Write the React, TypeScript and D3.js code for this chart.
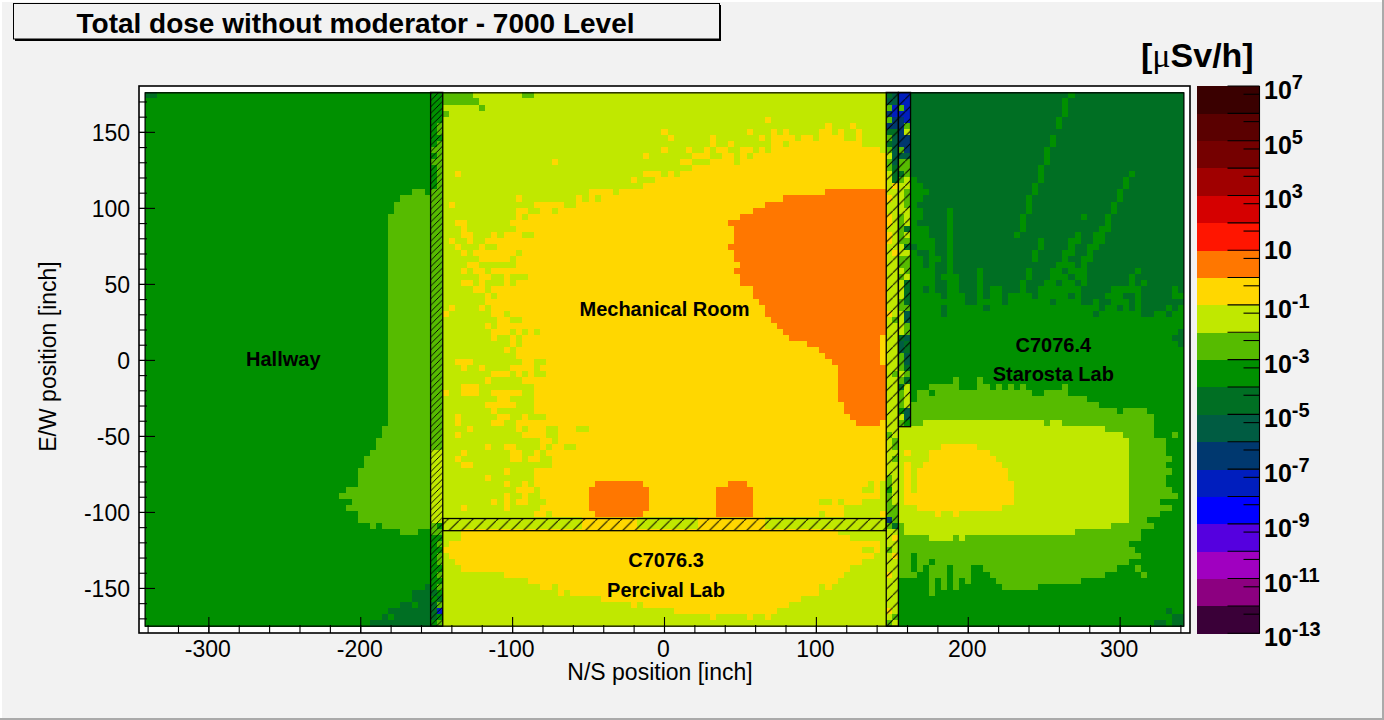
import React from "react";
import * as d3 from "d3";

// ---------- values ----------
const titleText = "Total dose without moderator - 7000 Level";
const xMajorTicks = [-300, -200, -100, 0, 100, 200, 300];
const yMajorTicks = [-150, -100, -50, 0, 50, 100, 150];
const barLabelExponents = [7, 5, 3, 1, -1, -3, -5, -7, -9, -11, -13];
// one colour per decade, 1e-13 upward
const paletteColors = ["#3a0038", "#8c0080", "#a000c0", "#5500df", "#0000ff", "#001ebe", "#00386f", "#005c42", "#006f23", "#009000", "#56bb00", "#c0e800", "#ffd700", "#ff7700", "#ff1500", "#d50000", "#a00000", "#750000", "#5a0000", "#3a0000"];
// code letter -> decade exponent of the dose
const doseExponents: Record<string, number> = { B: -8, N: -7, T: -6, D: -5, G: -4, L: -3, Y: -2, O: -1, R: 0 };

// Each band: [number of rows, runs "startColumn+code"]
const hallwayBands: [number, string][] = [
  [1, "0D 2G"], [15, "0G"], [1, "0G 44L 46G"], [1, "0G 42L"], [2, "0G 41L"], [35, "0G 40L"],
  [2, "0G 39L"], [2, "0G 38L"], [1, "0G 37L"], [2, "0G 36L"], [3, "0G 35L"], [1, "0G 33L"], [1, "0G 32L"],
  [1, "0G 34L"], [1, "0G 33L"], [2, "0G 35L"], [1, "0G 37L 38G 39L"], [1, "0G 42L 45G"], [8, "0G"],
  [1, "0G 46D"], [2, "0G 44D"], [1, "0G 42D 44G 45D"], [1, "0G 40D"], [1, "0G 39D 40G 41D"], [1, "0G 37D"],
];
const westWallCells = [
  "GG", "GG", "GG", "GG", "GG", "GL", "GL", "GG", "GL", "LL", "GL", "LL", "GL", "GL", "GL", "GL",
  "LL", "LL", "LL", "LL", "LL", "LL", "LL", "LL", "LL", "LL", "LL", "LL", "LL", "LL", "LL", "LL", "LL", "LL", "LL", "LL", "LL", "LL", "LL", "LL", "LL", "LL", "LL", "LL", "LL", "LL", "LL", "LL", "LL", "LL", "LL", "LL", "LL", "LL", "LL", "LL", "LL", "LL", "LL",
  "YY", "YY", "YY", "YY", "YY", "YY", "YY", "YY", "YY", "YY", "YY", "YY",
  "LG", "LL", "GG", "GL", "GG", "GL", "GL", "GG", "GL", "GG", "GL", "DG", "GD", "DL", "DB", "DG", "GL",
].slice(0, 88);
const roomRows = [
  "49L 54Y 62L 64Y", "49L 55Y", "49Y 55L 56Y", "49L 50Y", "49Y 102O 103Y", "49Y 112O 113Y 116O 117Y",
  "49Y 85O 86Y 99O 100Y 103O 104Y 105O 106Y 111O 113Y 114O 115Y 117O 118Y",
  "49Y 86O 87Y 93O 94Y 101O 102Y 103O 107Y 108O 110Y 111O 115Y 117O 118Y",
  "49Y 93O 94Y 96O 97Y 103O 105Y 106O 118Y",
  "49Y 85O 86Y 89O 90Y 92O 93Y 94O 96Y 98O 100Y 101O 102Y 103O 121Y",
  "49Y 82O 83Y 90O 93Y 95O 97Y 98O 99Y 100O",
  "49Y 67O 68Y 88O 90Y 93O 97Y 98O",
  "49Y 90O", "49Y 51O 52Y 82O 85Y 86O 87Y 88O", "49Y 80O 81Y 84O", "49Y 82O",
  "49Y 73O 77Y 78O 112R", "49Y 61O 62Y 71O 72Y 73O 74Y 75O 105R", "49Y 50O 51Y 64O 69Y 71O 102R",
  "49Y 61O 63Y 65O 67Y 68O 100R", "49Y 61O 62Y 63O 98R", "49Y 51O 53Y 60O 96R", "49Y 52O 53Y 61O 97R",
  "49Y 52O 54Y 57O 58Y 59O 62Y 64O 97R", "49Y 50O 51Y 53O 54Y 56O 97R", "49Y 51O 52Y 55O 56Y 58O 96R",
  "49Y 52O 53Y 54O 61Y 62O 97R", "49Y 55O 60Y 61O 97R", "49Y 53O 55Y 61O 98R", "49Y 52O 53Y 54O 56Y 57O 97R",
  "49Y 55O 57Y 59O 60Y 63O 98R", "49Y 52O 54Y 55O 56Y 59O 60Y 61O 98R", "49Y 54O 56Y 57O 100R",
  "49Y 56O 57Y 58O 100R", "49Y 56O 101R", "49Y 50O 51Y 55O 56Y 57O 102R", "49O 50Y 57O 59Y 60O 102R",
  "49Y 58O 60Y 62O 103R", "49Y 56O 57Y 58O 104R", "49Y 57O 60Y 61O 62Y 63O 64Y 65O 105R",
  "49Y 57O 58Y 60O 61Y 62O 106R 121O", "49Y 60O 61Y 62O 109R 121O", "49Y 59O 60Y 61O 111R 121O",
  "49Y 61O 112R 121O", "49Y 51O 54Y 62O 64Y 66O 113R 121O", "49Y 52O 53Y 55O 56Y 60O 64Y 65O 114R",
  "49Y 57O 60Y 61O 62Y 63O 64Y 66O 114R", "49Y 56O 57Y 62O 114R", "49Y 52O 55Y 64O 114R",
  "49O 50Y 52O 55Y 57O 62Y 64O 114R", "49Y 58O 60Y 64O 114R", "49Y 56O 61Y 64O 115R", "49Y 57O 58Y 64O 115R",
  "49Y 51O 52Y 58O 60Y 62O 63Y 66O 116R", "49Y 51O 52Y 57O 59Y 61O 117R 121O",
  "49Y 53O 54Y 61O 62Y 63O 66Y 68O 71Y 73O", "49Y 51O 52Y 62O 66Y 68O", "49Y 65O 67Y 68O",
  "49Y 56O 57Y 59O 61Y 65O 66Y 67O 69Y 71O", "49Y 52O 53Y 60O 62Y 64O 65Y 66O", "49Y 51O 52Y 60O 62Y 63O 65Y 67O",
  "49Y 52O 54Y 67O", "49Y 59O 60Y 64O", "49Y 56O 57Y 64O",
  "49Y 59O 60Y 62O 63Y 64O 74R 82O 96R 99O 119Y 120O 121Y",
  "49Y 61O 64Y 65O 73R 83O 94R 100O 118Y 120O 121Y",
  "49Y 59O 60Y 62O 63Y 65O 73R 83O 94R 100O 121Y",
  "49Y 57O 58Y 59O 60Y 61O 63Y 66O 73R 83O 94R 100O 111Y 113O 114Y 115O 118Y",
  "49Y 52O 53Y 59O 60Y 65O 73R 83O 94R 100O 115Y",
  "49Y 64O 66Y 67O 74R 82O 94R 100O 111Y 112O 115Y 121O",
  "49Y 72O 81Y 91O 102Y", "49Y 72O 81Y 91O 102Y",
  "49Y 52O 114Y", "49Y 52O 116Y", "49Y 50O 121Y", "49O 118Y 120O 121Y", "49Y 50O 120Y", "49Y 51O 118Y",
  "49Y 52O 116Y", "49Y 59O 115Y", "49Y 63O 114Y", "49Y 65O 67Y 68O 111Y 112O 113Y",
  "49Y 68O 69Y 70O 111Y", "49Y 75O 108Y", "49Y 80O 81Y 82O 106Y", "49Y 87O 104Y",
  "49Y 93O 94Y 99O 100Y 102O 103Y", "49Y",
];
const eastWallCells = [
  "DTBB", "TTBB", "LBLB", "NBBB", "LNNB", "NNNL", "DDNY", "LTNN", "DTNN", "LTLN", "YTTT", "LTLL", "LDLL", "YDDL", "YDLY",
  "YOYY", "YYYL", "OYYL", "YYYL", "YYYY", "OYLY", "OYLY", "YYLD", "OYLY", "OYLL", "YYYD", "YOYY", "YYLL", "YYLL", "YYYL",
  "YYLY", "YYYD", "YYYD", "YYYD", "YYLD", "YYLL", "OYYT", "YLYT", "YYYL", "YYYL", "YYDT", "YYTD", "YYTD", "YYLT", "YYLT",
  "YYLD", "YLYL", "YYLD", "YYDY", "YYLY", "YYLY", "YYLY", "YYGT", "YYYT", "YYLG",
  "YY", "LY", "YL", "YL", "YY", "YL", "YY", "YY", "LY", "LY", "GY", "LY", "LY", "LL", "LL", "NL", "LD",
  "YY", "YO", "YY", "LY", "YO", "YY", "YY", "OY", "YY", "YY", "YY", "YY", "YY", "OY", "YL", "LY",
];
const labRows = [
  "126D 152G 153D", "126D 151G 152D", "126D 151G 152D", "126D 151G 152D", "126D 150G 151D", "126D 150G 151D", "126D",
  "126D 149G 150D", "126D 149G 150D", "126D 148G 149D", "126D 148G 149D", "126D 148G 149D", "126D 147G 148D",
  "126D 147G 148D 162G 163D", "126G 127D 147G 148D 161G 162D", "126G 128D 146G 147D 161G 162D",
  "126G 129D 146G 147D 160G 161D", "126G 128D 145G 146D 160G 161D", "126G 127D 145G 146D 159G 160D",
  "126G 128D 132G 133D 145G 146D 159G 160D", "126G 128D 132G 133D 144G 145D 154G 155D 158G 159D",
  "126G 127D 132G 133D 144G 145D 158G 159D", "126G 129D 132G 133D 144G 145D 157G 159D",
  "126G 129D 132G 133D 143G 144D 153G 154D 156G 158D", "126G 130D 132G 133D 147G 148D 152G 154D 156G 158D",
  "126D 127G 130D 132G 133D 147G 148D 152G 153D 155G 157D", "126G 127D 129G 130D 132G 133D 146G 147D 151G 153D 155G 156D",
  "126G 128D 129G 131D 132G 133D 146G 147D 151G 152D 154G 156D", "126G 128D 129G 130D 132G 133D 150G 153D 154G 155D",
  "126G 130D 132G 133D 137G 138D 145G 146D 149G 151D 152G 155D 163G 164D",
  "126G 130D 131G 134D 137G 138D 145G 146D 149G 152D 153G 155D 162G 163D",
  "126G 130D 132G 134D 137G 138D 144G 145D 148G 150D 151G 153D 154G 155D 162G 163D 164G 165D",
  "126G 128D 129G 130D 132G 134D 137G 138D 139G 141D 144G 145D 147G 154D 159G 164D 169G 170D",
  "126G 131D 132G 135D 137G 138D 139G 141D 142G 146D 147G 152D 153G 154D 158G 161D 163G 164D 169G",
  "126G 135D 137G 141D 142G 149D 150G 154D 156G 157D 159G 162D 163G 164D",
  "126G 131D 132G 138D 139G 157D 158G 160D 161G 162D 163G 164D 168G 169D 170G",
  "126G 131D 132G 156D 157G 164D 166G 168D 169G",
  "126G", "126G", "126G 170D", "126G 169D", "126G 170D", "126G", "126G", "126G", "126G", "126G",
  "126G 133L 134G 137L 138G", "126G 129L 134G 137L 139G 140L 141G 142L 143G 144L 145G 151L 152G",
  "126G 127L 129G 130L 146G 148L 152G", "126G 127L 155G", "126L 157G", "126L 160G 161L 165G", "126L 166G",
  "126L 128Y 148L 149Y 151L 166G", "124Y 158L 166G", "124Y 161L 166G 169L 170G", "124Y 162L 168G",
  "124Y 131O 137Y 162L 168G", "124Y 125O 126Y 129O 139Y 162L 168G", "124Y 129O 140Y 162L 169G",
  "124Y 125O 126Y 128O 141Y 162L 168G", "124Y 125O 126Y 127O 142Y 162L 169G", "124Y 125O 126Y 127O 142Y 162L 168G",
  "124Y 125O 126Y 127O 143Y 162L 168G", "124Y 125O 126Y 127O 143Y 162L 169G", "124Y 125O 143Y 162L 170G",
  "124Y 125O 143Y 162L 167G", "124Y 127O 141Y 162L 169G", "124Y 130O 131Y 133O 134Y 162L 167G", "124Y 162L 165G",
  "124L 125Y 159L 166G", "124L 125Y 153L 164G", "124L 129Y 133L 134Y 135L 164G", "124L 162G", "124L 163G",
  "124L 126G 127L 164G", "124L 126G 127L 129G 130L 162G", "124L 126G 127L 128G 129L 132G 133L 136G 138L 160G 163L 164G",
  "124L 127G 129L 132G 133L 136G 139L 158G 164L 165G", "124G 129L 130G 131L 132G 133L 134G 135L 136G 140L 154G",
  "124G 129L 130G 131L 132G 133L 134G 141L 147G", "124G 129L 130G", "124G", "124G", "124G 168D 169G", "124G 169D",
  "124G 166D 168G 169D",
];
// hatched walls, in inches: [x0, x1, y0, y1, spacing key]
const hatchedWalls: [number, number, number, number, string][] = [
  [-154, -146, 176.3, -174.8, "hatchFine"],
  [146, 154, 176.3, -174.8, "hatchWide"],
  [154, 162, 176.3, -43.6, "hatchWide"],
  [-146, 146, -104, -112, "hatchWide"],
];
const roomLabels: [string, number, number][] = [
  ["Hallway", -251, 366], ["Mechanical Room", 0, 316], ["C7076.3", 1, 567], ["Percival Lab", 1, 597],
  ["C7076.4", 256, 352], ["Starosta Lab", 256, 381],
];

// ---------- layout ----------
const W = 1384, H = 720;
const frame = { left: 139, right: 1190, top: 86, bottom: 633 };
const bar = { left: 1197, right: 1259.5 };
const FONT = "'Liberation Sans', Arial, sans-serif";
const xScale = d3.scaleLinear().domain([-346, 346]).range([frame.left, frame.right]);
const yScale = d3.scaleLinear().domain([-179.5, 180.5]).range([frame.bottom + 0.3, frame.top]);
const colEdge = d3.scaleLinear().domain([0, 171]).range([-342, 342]);
const rowEdge = d3.scaleLinear().domain([0, 88]).range([176.3, -174.8]);
const barScale = d3.scaleLog().domain([1e-13, 1e7]).range([frame.bottom + 0.3, frame.top]);
const colorOf = d3.scaleQuantize<string>().domain([-13, 7]).range(paletteColors);

function expandBands(bands: [number, string][]) {
  return bands.flatMap(([n, s]) => Array(n).fill(s) as string[]);
}
function parseRuns(s: string) {
  return s.split(" ").map((t) => ({ col: parseInt(t, 10), code: t[t.length - 1] }));
}
type Run = { row: number; c0: number; c1: number; code: string };
function buildRuns(): Run[] {
  const out: Run[] = [];
  const hall = expandBands(hallwayBands);
  for (let r = 0; r < 88; r++) {
    const push = (s: string, end: number) => {
      const runs = parseRuns(s);
      runs.forEach((u, i) => out.push({ row: r, c0: u.col, c1: i + 1 < runs.length ? runs[i + 1].col : end, code: u.code }));
    };
    push(hall[r], 47);
    [...westWallCells[r]].forEach((code, i) => out.push({ row: r, c0: 47 + i, c1: 48 + i, code }));
    push(roomRows[r], 122);
    [...eastWallCells[r]].forEach((code, i) => out.push({ row: r, c0: 122 + i, c1: 123 + i, code }));
    push(labRows[r], 171);
  }
  return out;
}
const cellRuns = buildRuns();
const xMinor = d3.range(-340, 341, 20);
const yMinor = d3.range(-170, 171, 10);
const barDecades = d3.range(-13, 8);
const barMinor = d3.range(-13, 7).map((e) => 5 * Math.pow(10, e));

export default function App() {
  return (
    <svg width={W} height={H} viewBox={`0 0 ${W} ${H}`} style={{ position: "absolute", left: 0, top: 0, display: "block" }} fontFamily={FONT}>
      <defs>
        <pattern id="hatchFine" width={6.4} height={6.4} patternUnits="userSpaceOnUse">
          <line x1={-1} y1={7.4} x2={7.4} y2={-1} stroke="#000" strokeWidth={0.9} />
        </pattern>
        <pattern id="hatchWide" width={12.4} height={12.4} patternUnits="userSpaceOnUse">
          <line x1={-1} y1={13.4} x2={13.4} y2={-1} stroke="#000" strokeWidth={1} />
        </pattern>
      </defs>
      <rect width={W} height={H} fill="#f2f2f2" />
      <rect x={0} y={0} width={2} height={H} fill="#fff" />
      <rect x={0} y={0} width={W} height={2} fill="#fff" />
      <rect x={W - 2} y={0} width={2} height={H} fill="#aaa" />
      <rect x={0} y={H - 2} width={W} height={2} fill="#aaa" />

      {/* title */}
      <rect x={15} y={5} width={706} height={36} fill="#000" />
      <rect x={13.5} y={3.5} width={706} height={35.5} fill="#f2f2f2" stroke="#000" strokeWidth={1} />
      <text x={76.5} y={32.5} fontSize={28} fontWeight={700} fill="#000">{titleText}</text>

      {/* frame */}
      <rect x={frame.left} y={frame.top} width={frame.right - frame.left} height={frame.bottom - frame.top} fill="#fff" stroke="#000" strokeWidth={1.6} />

      {/* heat map */}
      <g shapeRendering="crispEdges">
        {cellRuns.map((u, i) => (
          <rect key={i} x={xScale(colEdge(u.c0))} y={yScale(rowEdge(u.row))}
            width={xScale(colEdge(u.c1)) - xScale(colEdge(u.c0)) + 0.4}
            height={yScale(rowEdge(u.row + 1)) - yScale(rowEdge(u.row)) + 0.4}
            fill={colorOf(doseExponents[u.code] + 0.5)} />
        ))}
      </g>

      {/* walls */}
      <rect x={xScale(-342)} y={yScale(176)} width={xScale(342) - xScale(-342)} height={yScale(-174.8) - yScale(176)} fill="none" stroke="#000" strokeWidth={1.2} />
      {hatchedWalls.map(([x0, x1, y0, y1, id], i) => (
        <g key={i}>
          <rect x={xScale(x0)} y={yScale(y0)} width={xScale(x1) - xScale(x0)} height={yScale(y1) - yScale(y0)} fill={`url(#${id})`} />
          <rect x={xScale(x0)} y={yScale(y0)} width={xScale(x1) - xScale(x0)} height={yScale(y1) - yScale(y0)} fill="none" stroke="#000" strokeWidth={1.3} />
        </g>
      ))}

      {/* room labels */}
      {roomLabels.map(([t, x, y]) => (
        <text key={t} x={xScale(x)} y={y} textAnchor="middle" fontSize={20} fontWeight={700} fill="#000">{t}</text>
      ))}

      {/* axes */}
      <g stroke="#000" strokeWidth={1.1}>
        {xMinor.map((v) => <line key={v} x1={xScale(v)} x2={xScale(v)} y1={frame.bottom} y2={frame.bottom - 8} />)}
        {xMajorTicks.map((v) => <line key={v} x1={xScale(v)} x2={xScale(v)} y1={frame.bottom} y2={frame.bottom - 16} />)}
        {yMinor.map((v) => <line key={v} y1={yScale(v)} y2={yScale(v)} x1={frame.left} x2={frame.left + 8} />)}
        {yMajorTicks.map((v) => <line key={v} y1={yScale(v)} y2={yScale(v)} x1={frame.left} x2={frame.left + 16} />)}
      </g>
      {xMajorTicks.map((v) => (
        <text key={v} x={xScale(v) - 1} y={657} textAnchor="middle" fontSize={23} fill="#000">{v}</text>
      ))}
      {yMajorTicks.map((v) => (
        <text key={v} x={130} y={yScale(v) + 8.5} textAnchor="end" fontSize={23} fill="#000">{v}</text>
      ))}
      <text x={660} y={680} textAnchor="middle" fontSize={23} fill="#000">N/S position [inch]</text>
      <text transform="translate(56,356.5) rotate(-90)" textAnchor="middle" fontSize={23} fill="#000">E/W position [inch]</text>

      {/* colour bar */}
      <g shapeRendering="crispEdges">
        {paletteColors.map((c, i) => {
          const e = -13 + i;
          return <rect key={c + i} x={bar.left} y={barScale(Math.pow(10, e + 1))} width={bar.right - bar.left} height={barScale(Math.pow(10, e)) - barScale(Math.pow(10, e + 1)) + 0.4} fill={c} />;
        })}
      </g>
      <g stroke="#000" strokeWidth={1.1}>
        <line x1={bar.right} x2={bar.right} y1={frame.top} y2={frame.bottom} />
        {barDecades.map((e) => <line key={e} x1={bar.right} x2={bar.right - 32} y1={barScale(Math.pow(10, e))} y2={barScale(Math.pow(10, e))} />)}
        {barMinor.map((v) => <line key={v} x1={bar.right} x2={bar.right - 16} y1={barScale(v)} y2={barScale(v)} />)}
      </g>
      {barLabelExponents.map((e) => (
        <text key={e} x={1264} y={barScale(Math.pow(10, e)) + (e === 1 ? 8.7 : 13)} fontSize={25} fontWeight={700} fill="#000">
          10{e !== 1 && <tspan fontSize={20} dy={-10}>{e}</tspan>}
        </text>
      ))}
      <text x={1141} y={67} fontSize={34} fontWeight={700} fill="#000">[<tspan fontFamily="'Liberation Serif', serif" fontWeight={400}>μ</tspan>Sv/h]</text>
    </svg>
  );
}
